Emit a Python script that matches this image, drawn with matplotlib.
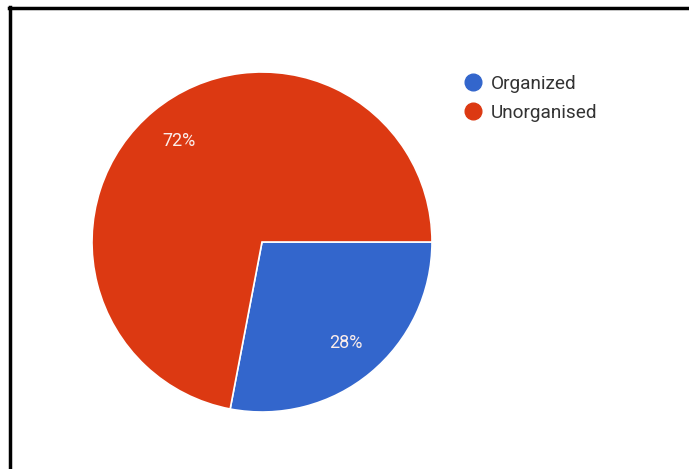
import matplotlib
matplotlib.use("Agg")
import matplotlib.pyplot as plt
from matplotlib.lines import Line2D

categories = ["Organized", "Unorganised"]
values = [28, 72]
colors = ["#3366CC", "#DC3912"]

plt.rcParams['font.family'] = ['Roboto', 'DejaVu Sans']

W, H = 689, 469
fig = plt.figure(figsize=(W / 100, H / 100), dpi=100)
fig.patch.set_facecolor("white")

# border (top and left visible, continuing off the right/bottom)
fig.add_artist(Line2D([9.5 / W, 9.5 / W], [0, 1 - 7 / H], color="black", lw=2.5,
                      transform=fig.transFigure))
fig.add_artist(Line2D([8.5 / W, 1], [1 - 8 / H, 1 - 8 / H], color="black", lw=2.5,
                      transform=fig.transFigure))

cx, cy, r = 262, 242, 170
ax = fig.add_axes([(cx - r) / W, (H - cy - r) / H, 2 * r / W, 2 * r / H])
wedges, texts, autotexts = ax.pie(
    values, colors=colors, startangle=0, counterclock=False,
    autopct=lambda p: f"{p:.0f}%", pctdistance=0.77,
    wedgeprops=dict(edgecolor="white", linewidth=1.2),
    textprops=dict(color="#FBEDEA", fontsize=13))
ax.set_xlim(-1, 1)
ax.set_ylim(-1, 1)
ax.set_aspect("equal")

handles = [Line2D([], [], marker="o", linestyle="none", markersize=12,
                  markerfacecolor=c, markeredgecolor=c) for c in colors]
fig.legend(handles, categories, loc="upper left",
           bbox_to_anchor=(465 / W, 1 - 75 / H), frameon=False,
           fontsize=13.7, handletextpad=0.57, labelspacing=0.57,
           handlelength=0.8, labelcolor="#333333", borderaxespad=0, borderpad=0)

fig.savefig("out.png", dpi=100)
